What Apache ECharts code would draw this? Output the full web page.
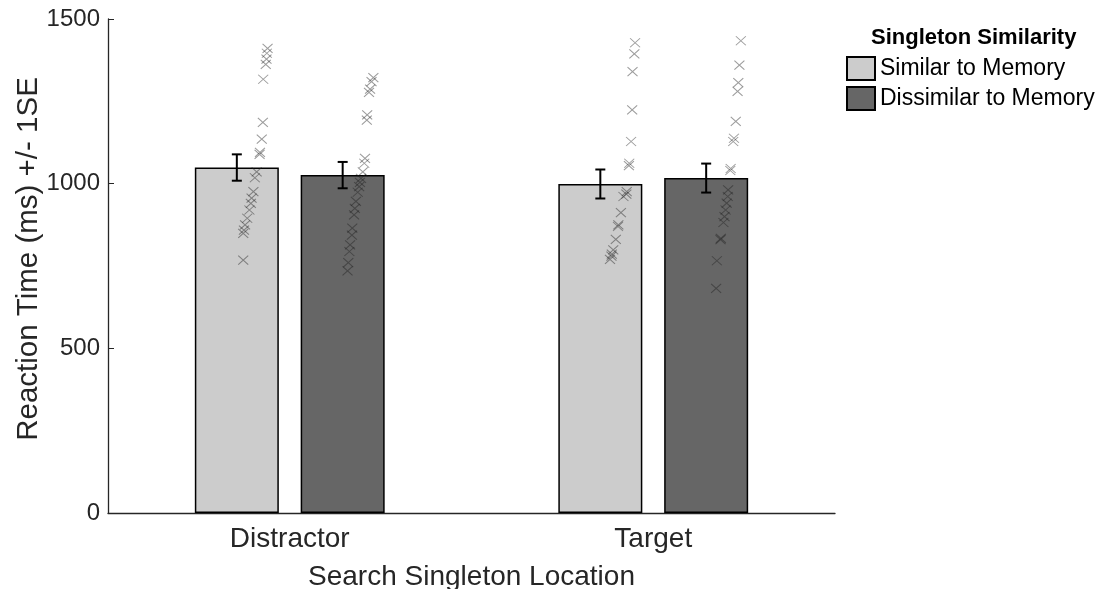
<!DOCTYPE html>
<html>
<head>
<meta charset="utf-8">
<script src="https://cdn.jsdelivr.net/npm/echarts@6/dist/echarts.min.js"></script>
<style>html,body{margin:0;padding:0;background:#fff}#chart{width:1109px;height:589px}</style>
</head>
<body>
<div id="chart"></div>
<script>
// ---- data ----
const categories = ['Distractor', 'Target'];
const seriesNames = ['Similar to Memory', 'Dissimilar to Memory'];
const yTicks = [0, 500, 1000, 1500];
const similarMeans = [1049, 999];
const dissimilarMeans = [1026, 1017];
const similarSE = [40, 44];
const dissimilarSE = [40, 44];

// individual participants: x positions on a 0.5..2.5 scale (category 1 = 1, category 2 = 2)
const distSimX  = [0.939, 0.937, 0.936, 0.934, 0.927, 0.926, 0.923, 0.918, 0.917, 0.909, 0.904, 0.900, 0.895, 0.893, 0.889, 0.883, 0.877, 0.874, 0.872, 0.872];
const distSimRT = [1411, 1396, 1378, 1362, 1317, 1186, 1135, 1095, 1089, 1036, 1018, 976, 956, 940, 920, 895, 875, 859, 849, 768];
const distDisX  = [1.230, 1.225, 1.221, 1.218, 1.213, 1.212, 1.207, 1.205, 1.201, 1.196, 1.193, 1.191, 1.187, 1.182, 1.179, 1.177, 1.172, 1.171, 1.166, 1.164, 1.161, 1.159];
const distDisRT = [1322, 1310, 1287, 1277, 1209, 1193, 1077, 1062, 1036, 1016, 1004, 991, 974, 946, 925, 905, 865, 844, 814, 794, 760, 735];
const targSimX  = [1.950, 1.948, 1.943, 1.942, 1.939, 1.934, 1.933, 1.927, 1.926, 1.918, 1.911, 1.904, 1.903, 1.897, 1.890, 1.886, 1.885, 1.881];
const targSimRT = [1428, 1394, 1340, 1224, 1128, 1062, 1055, 976, 968, 961, 912, 875, 870, 831, 799, 786, 780, 770];
const targDisX  = [2.241, 2.237, 2.234, 2.232, 2.227, 2.222, 2.220, 2.213, 2.212, 2.206, 2.205, 2.202, 2.199, 2.196, 2.193, 2.186, 2.185, 2.175, 2.173];
const targDisRT = [1434, 1360, 1307, 1280, 1189, 1138, 1128, 1046, 1040, 981, 961, 941, 920, 900, 882, 834, 830, 766, 682];

// ---- styling constants ----
const FONT = "'Liberation Sans', Arial, Helvetica, sans-serif";
const TXT = '#262626';
const BAR_W = 84;
const BAR_GAP = 0.26;
const HALF_OFFSET = (BAR_W + BAR_W * BAR_GAP) / 2;
const X_PATH = 'path://M0,0L10,10M10,0L0,10';

function pairs(xs, ys) { return xs.map((x, i) => [x, ys[i]]); }

function errorSeries(means, ses, sign) {
  return {
    type: 'custom',
    xAxisIndex: 0,
    z: 5,
    silent: true,
    data: means.map((m, i) => [i, m, ses[i]]),
    renderItem: function (params, api) {
      const c = api.value(0), m = api.value(1), s = api.value(2);
      const top = api.coord([c, m + s]);
      const bot = api.coord([c, m - s]);
      const x = top[0] + sign * HALF_OFFSET;
      const cap = 5;
      const st = { stroke: '#000', lineWidth: 2 };
      return {
        type: 'group',
        children: [
          { type: 'line', shape: { x1: x, y1: top[1], x2: x, y2: bot[1] }, style: st },
          { type: 'line', shape: { x1: x - cap, y1: top[1], x2: x + cap, y2: top[1] }, style: st },
          { type: 'line', shape: { x1: x - cap, y1: bot[1], x2: x + cap, y2: bot[1] }, style: st }
        ]
      };
    }
  };
}

function scatterSeries(data) {
  return {
    type: 'scatter',
    xAxisIndex: 1,
    z: 6,
    silent: true,
    symbol: X_PATH,
    symbolSize: [10, 9],
    itemStyle: { color: 'none', borderColor: 'rgba(30,30,30,0.55)', borderWidth: 1 },
    data: data
  };
}

const chart = echarts.init(document.getElementById('chart'), null, { renderer: 'canvas' });
chart.setOption({
  animation: false,
  backgroundColor: '#fff',
  textStyle: { fontFamily: FONT, color: TXT },
  title: {
    text: 'Singleton Similarity',
    left: 866, top: 22,
    textStyle: { fontFamily: FONT, fontWeight: 'bold', fontSize: 22, color: '#000' }
  },
  legend: {
    data: seriesNames,
    orient: 'vertical',
    left: 846, top: 56,
    padding: 0,
    itemWidth: 28, itemHeight: 23, itemGap: 5,
    icon: 'rect',
    textStyle: { fontFamily: FONT, fontSize: 23, color: '#000' }
  },
  grid: { left: 108, right: 274, top: 19, bottom: 76, containLabel: false, outerBoundsMode: 'none' },
  xAxis: [
    {
      type: 'category',
      data: categories,
      name: 'Search Singleton Location',
      nameLocation: 'middle',
      nameGap: 50,
      nameTextStyle: { fontFamily: FONT, fontSize: 28, color: TXT },
      axisLine: { lineStyle: { color: TXT, width: 1.3 } },
      axisTick: { inside: true, alignWithLabel: true, length: 6, lineStyle: { color: TXT } },
      axisLabel: { fontFamily: FONT, fontSize: 28, color: TXT, margin: 12 }
    },
    { type: 'value', min: 0.5, max: 2.5, show: false }
  ],
  yAxis: {
    type: 'value',
    min: yTicks[0], max: yTicks[yTicks.length - 1], interval: 500,
    name: 'Reaction Time (ms) +/- 1SE',
    nameLocation: 'middle',
    nameGap: 64,
    nameMoveOverlap: false,
    nameTextStyle: { fontFamily: FONT, fontSize: 29.5, color: TXT, padding: [0, 0, 0, 14] },
    axisLine: { show: true, lineStyle: { color: TXT, width: 1.3 } },
    axisTick: { show: true, inside: true, length: 6, lineStyle: { color: TXT } },
    axisLabel: { fontFamily: FONT, fontSize: 24, color: TXT, margin: 8, formatter: function (v) { return String(v); } },
    splitLine: { show: false }
  },
  series: [
    {
      name: seriesNames[0], type: 'bar', xAxisIndex: 0,
      barWidth: BAR_W, barGap: (BAR_GAP * 100) + '%',
      itemStyle: { color: '#cccccc', borderColor: '#000', borderWidth: 1.5 },
      data: similarMeans
    },
    {
      name: seriesNames[1], type: 'bar', xAxisIndex: 0,
      barWidth: BAR_W, barGap: (BAR_GAP * 100) + '%',
      itemStyle: { color: '#666666', borderColor: '#000', borderWidth: 1.5 },
      data: dissimilarMeans
    },
    errorSeries(similarMeans, similarSE, -1),
    errorSeries(dissimilarMeans, dissimilarSE, 1),
    scatterSeries(pairs(distSimX, distSimRT)),
    scatterSeries(pairs(distDisX, distDisRT)),
    scatterSeries(pairs(targSimX, targSimRT)),
    scatterSeries(pairs(targDisX, targDisRT))
  ]
});
</script>
</body>
</html>
